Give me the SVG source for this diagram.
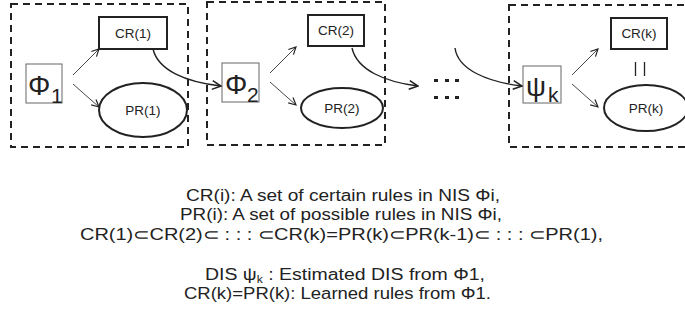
<svg xmlns="http://www.w3.org/2000/svg" width="685" height="320" viewBox="0 0 685 320">
<defs>
<marker id="ah" viewBox="0 0 10 10" refX="9" refY="5" markerWidth="9" markerHeight="9" markerUnits="userSpaceOnUse" orient="auto">
<path d="M1,1 L9,5 L1,9" fill="none" stroke="#222" stroke-width="1.3"/>
</marker>
<marker id="ah2" viewBox="0 0 10 10" refX="9" refY="5" markerWidth="11" markerHeight="11" markerUnits="userSpaceOnUse" orient="auto">
<path d="M1,1 L9,5 L1,9" fill="none" stroke="#222" stroke-width="1.4"/>
</marker>
</defs>
<style>
.dash{fill:none;stroke:#222;stroke-width:2;stroke-dasharray:7,5}
.cr{fill:#fff;stroke:#222;stroke-width:2}
.pr{fill:#fff;stroke:#222;stroke-width:2}
.sys{fill:#fff;stroke:#666;stroke-width:1}
.t{font-family:"Liberation Sans",Arial,sans-serif;fill:#222}
.lbl{font-size:13.5px}
.big{font-size:28px}
.sub{font-size:21px}
.cap{font-size:16px}
.thin{fill:none;stroke:#333;stroke-width:0.9}
.curve{fill:none;stroke:#222;stroke-width:1.4}
</style>
<rect width="685" height="320" fill="#fff"/>
<g id="group1"><rect class="dash" x="11" y="4" width="177" height="143"/></g>
<g id="group2"><rect class="dash" x="207" y="2" width="178" height="143"/></g>
<g id="group3"><rect class="dash" x="509" y="5" width="185" height="142"/></g>

<g id="phi1"><rect class="sys" x="26" y="64" width="36" height="39"/><text class="t big" x="28" y="95">Φ</text><text class="t sub" x="51" y="103">1</text></g>
<g id="cr1"><rect class="cr" x="99" y="17" width="68" height="32"/><text class="t lbl" x="133" y="38" text-anchor="middle">CR(1)</text></g>
<g id="pr1"><ellipse class="pr" cx="143" cy="110" rx="44" ry="27"/><text class="t lbl" x="143" y="115" text-anchor="middle">PR(1)</text></g>

<g id="phi2"><rect class="sys" x="222" y="63" width="37" height="39"/><text class="t big" x="225" y="94">Φ</text><text class="t sub" x="247" y="102">2</text></g>
<g id="cr2"><rect class="cr" x="308" y="15" width="56" height="31"/><text class="t lbl" x="336" y="35" text-anchor="middle">CR(2)</text></g>
<g id="pr2"><ellipse class="pr" cx="342" cy="108" rx="41" ry="20"/><text class="t lbl" x="342" y="113" text-anchor="middle">PR(2)</text></g>

<g id="dots" fill="#222"><rect x="434" y="79" width="4" height="3"/><rect x="445" y="79" width="4" height="3"/><rect x="455" y="79" width="4" height="3"/><rect x="434" y="96" width="4" height="3"/><rect x="445" y="96" width="4" height="3"/><rect x="455" y="96" width="4" height="3"/></g>

<g id="psik"><rect class="sys" x="523" y="66" width="38" height="37"/><text class="t big" x="526" y="96">ψ</text><text class="t sub" x="548" y="102">k</text></g>
<g id="crk"><rect class="cr" x="611" y="18" width="56" height="31"/><text class="t lbl" x="639" y="38" text-anchor="middle">CR(k)</text></g>
<g id="eq"><line x1="635.5" y1="62" x2="635.5" y2="76" stroke="#222" stroke-width="1.3"/><line x1="644.5" y1="62" x2="644.5" y2="76" stroke="#222" stroke-width="1.3"/></g>
<g id="prk"><ellipse class="pr" cx="646" cy="108" rx="42" ry="23"/><text class="t lbl" x="646" y="113" text-anchor="middle">PR(k)</text></g>

<g id="connectors">
<line class="thin" x1="73" y1="75" x2="99" y2="49" marker-end="url(#ah)"/>
<line class="thin" x1="73" y1="84" x2="99" y2="107" marker-end="url(#ah)"/>
<line class="thin" x1="270" y1="73" x2="296" y2="47" marker-end="url(#ah)"/>
<line class="thin" x1="270" y1="82" x2="296" y2="105" marker-end="url(#ah)"/>
<line class="thin" x1="572" y1="75" x2="598" y2="49" marker-end="url(#ah)"/>
<line class="thin" x1="572" y1="84" x2="598" y2="107" marker-end="url(#ah)"/>
<path class="curve" d="M153,49 C158,70 185,82 221,86" marker-end="url(#ah2)"/>
<path class="curve" d="M352,48 C357,70 385,82 418,86" marker-end="url(#ah2)"/>
<path class="curve" d="M455,48 C458,70 488,82 522,86" marker-end="url(#ah2)"/>
</g>

<g id="caption" class="t cap">
<text x="186" y="201" textLength="314" lengthAdjust="spacingAndGlyphs">CR(i): A set of certain rules in NIS Φi,</text>
<text x="180" y="220" textLength="322" lengthAdjust="spacingAndGlyphs">PR(i): A set of possible rules in NIS Φi,</text>
<text x="80" y="240" textLength="523" lengthAdjust="spacingAndGlyphs">CR(1)⊂CR(2)⊂ : : : ⊂CR(k)=PR(k)⊂PR(k-1)⊂ : : : ⊂PR(1),</text>
<text x="205" y="280" textLength="280" lengthAdjust="spacingAndGlyphs">DIS ψ<tspan font-size="10" dy="3">k</tspan><tspan dy="-3"> : Estimated DIS from Φ1,</tspan></text>
<text x="184" y="299" textLength="307" lengthAdjust="spacingAndGlyphs">CR(k)=PR(k): Learned rules from Φ1.</text>
</g>
</svg>
